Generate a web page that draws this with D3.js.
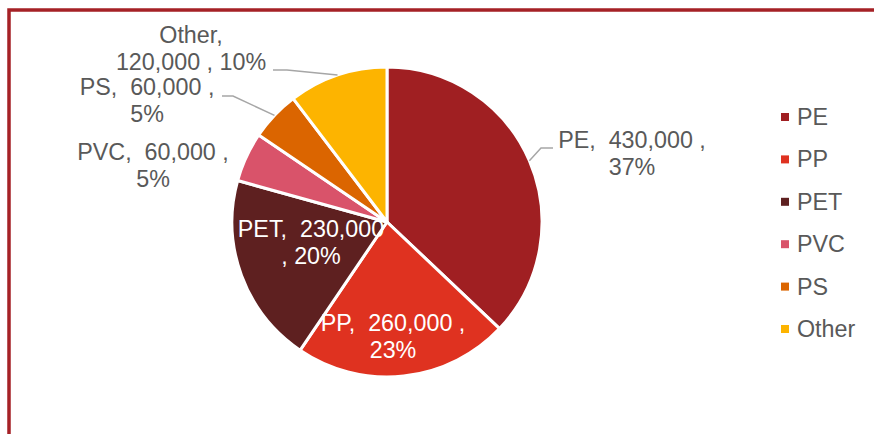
<!DOCTYPE html>
<html>
<head>
<meta charset="utf-8">
<script src="https://cdn.jsdelivr.net/npm/d3@7"></script>
<style>
  html, body { margin: 0; padding: 0; background: #ffffff; }
  svg { display: block; }
  text { font-family: "Liberation Sans", Arial, sans-serif; }
</style>
</head>
<body>
<svg id="chart" width="874" height="434"></svg>
<script>
// ---- data ----
const categories = ["PE", "PP", "PET", "PVC", "PS", "Other"];
const values = [430000, 260000, 230000, 60000, 60000, 120000];
const percentLabels = ["37%", "23%", "20%", "5%", "5%", "10%"];
const colors = ["#A01F22", "#DF3220", "#5E2020", "#D9536A", "#DB6500", "#FDB400"];

// ---- layout ----
const W = 874, H = 434;
const cx = 387, cy = 222, R = 155;
const fontSize = 23.3, lineGap = 27;
const fmt = d3.format(",");

// label text lines per slice (how the wrapped label reads), built from data
function labelLines(i) {
  const name = categories[i], v = fmt(values[i]), p = percentLabels[i];
  switch (name) {
    case "PET": return [name + ",  " + v, ", " + p];
    case "Other": return [name + ",", v + " , " + p];
    default: return [name + ",  " + v + " ,", p];
  }
}
// label placement relative to pie centre (dx, dy of first baseline), inside/outside, leader elbow
const labelLayout = {
  PE:    { dx: 245, dy: -74, inside: false, leader: [[154, -74], [166, -74]] },
  PP:    { dx: 6,   dy: 109, inside: true },
  PET:   { dx: -76, dy: 15,  inside: true },
  PVC:   { dx: -234, dy: -62, inside: false },
  PS:    { dx: -240, dy: -127, inside: false, leader: [[-154, -126], [-165, -126]] },
  Other: { dx: -196, dy: -179, inside: false, leader: [[-100, -152], [-114, -152]] }
};

const svg = d3.select("#chart");

// frame
svg.append("rect")
  .attr("x", 9).attr("y", 10)
  .attr("width", 1000).attr("height", 600)
  .attr("fill", "none")
  .attr("stroke", "#A52126")
  .attr("stroke-width", 3.5);

const pie = d3.pie().sort(null).value(d => d)(values);
const arc = d3.arc().innerRadius(0).outerRadius(R);

const g = svg.append("g").attr("transform", `translate(${cx},${cy})`);

g.selectAll("path.slice")
  .data(pie)
  .join("path")
  .attr("class", "slice")
  .attr("d", arc)
  .attr("fill", (d, i) => colors[i])
  .attr("stroke", "#ffffff")
  .attr("stroke-width", 3)
  .attr("stroke-linejoin", "round");

// leader lines
pie.forEach((d, i) => {
  const L = labelLayout[categories[i]];
  if (!L.leader) return;
  const mid = (d.startAngle + d.endAngle) / 2;
  const edge = [R * Math.sin(mid), -R * Math.cos(mid)];
  const pts = [edge, ...L.leader];
  g.append("path")
    .attr("d", d3.line()(pts))
    .attr("fill", "none")
    .attr("stroke", "#A6A6A6")
    .attr("stroke-width", 1.5);
});

// data labels
pie.forEach((d, i) => {
  const L = labelLayout[categories[i]];
  const t = g.append("text")
    .attr("text-anchor", "middle")
    .attr("font-size", fontSize)
    .attr("fill", L.inside ? "#ffffff" : "#595959")
    .style("white-space", "pre");
  labelLines(i).forEach((line, k) => {
    t.append("tspan")
      .attr("x", L.dx)
      .attr("y", L.dy + k * lineGap)
      .text(line);
  });
});

// legend
const legendY = d3.scalePoint().domain(categories).range([117, 329]);
const lg = svg.append("g");
categories.forEach((c, i) => {
  const y = legendY(c);
  lg.append("rect")
    .attr("x", 781).attr("y", y - 4)
    .attr("width", 8).attr("height", 8)
    .attr("fill", colors[i]);
  lg.append("text")
    .attr("x", 797).attr("y", y + 8)
    .attr("font-size", fontSize)
    .attr("fill", "#595959")
    .text(c);
});
</script>
</body>
</html>
